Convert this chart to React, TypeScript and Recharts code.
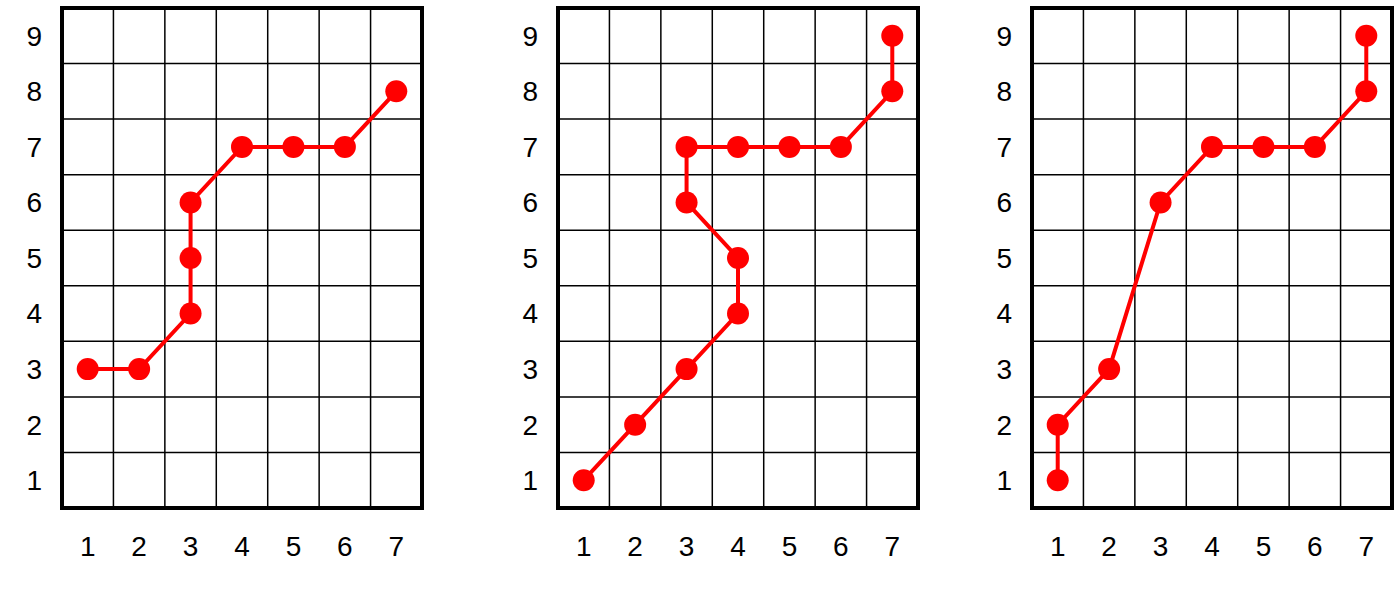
import { LineChart, Line, XAxis, YAxis, ReferenceLine, ReferenceArea } from "recharts";

const xTicks = [1, 2, 3, 4, 5, 6, 7];
const yTicks = [1, 2, 3, 4, 5, 6, 7, 8, 9];
const xGrid = [1.5, 2.5, 3.5, 4.5, 5.5, 6.5];
const yGrid = [1.5, 2.5, 3.5, 4.5, 5.5, 6.5, 7.5, 8.5];

const pathA = [
  { x: 1, y: 3 }, { x: 2, y: 3 }, { x: 3, y: 4 }, { x: 3, y: 5 }, { x: 3, y: 6 },
  { x: 4, y: 7 }, { x: 5, y: 7 }, { x: 6, y: 7 }, { x: 7, y: 8 },
];
const pathB = [
  { x: 1, y: 1 }, { x: 2, y: 2 }, { x: 3, y: 3 }, { x: 4, y: 4 }, { x: 4, y: 5 },
  { x: 3, y: 6 }, { x: 3, y: 7 }, { x: 4, y: 7 }, { x: 5, y: 7 }, { x: 6, y: 7 },
  { x: 7, y: 8 }, { x: 7, y: 9 },
];
const pathC = [
  { x: 1, y: 1 }, { x: 1, y: 2 }, { x: 2, y: 3 }, { x: 3, y: 6 }, { x: 4, y: 7 },
  { x: 5, y: 7 }, { x: 6, y: 7 }, { x: 7, y: 8 }, { x: 7, y: 9 },
];

const tickStyle = { fill: "#000", fontSize: 28, fontFamily: "Liberation Sans, Arial, sans-serif" };

function Panel({ data, left }: { data: { x: number; y: number }[]; left: number }) {
  return (
    <div style={{ position: "absolute", left, top: 0 }}>
      <LineChart width={420} height={592} data={data} margin={{ top: 8, right: 10, bottom: 0, left: 0 }}>
        <XAxis type="number" dataKey="x" domain={[0.5, 7.5]} ticks={xTicks} axisLine={false} tickLine={false}
          tickMargin={22} height={84} tick={tickStyle} interval={0} />
        <YAxis type="number" dataKey="y" domain={[0.5, 9.5]} ticks={yTicks} axisLine={false} tickLine={false}
          width={50} tickMargin={14} tick={tickStyle} interval={0} />
        {xGrid.map((v) => (
          <ReferenceLine key={"x" + v} x={v} stroke="#000" strokeWidth={1.5} />
        ))}
        {yGrid.map((v) => (
          <ReferenceLine key={"y" + v} y={v} stroke="#000" strokeWidth={1.5} />
        ))}
        <ReferenceArea x1={0.5} x2={7.5} y1={0.5} y2={9.5} fill="none" fillOpacity={0} stroke="#000" strokeWidth={4} />
        <Line type="linear" dataKey="y" stroke="#ff0000" strokeWidth={4}
          dot={{ r: 11, fill: "#ff0000", stroke: "#ff0000", strokeWidth: 0 }} isAnimationActive={false} />
      </LineChart>
    </div>
  );
}

export default function App() {
  return (
    <div style={{ position: "fixed", left: 0, top: 0, width: 1400, height: 592, background: "#fff" }}>
      <Panel data={pathA} left={12} />
      <Panel data={pathB} left={508} />
      <Panel data={pathC} left={982} />
    </div>
  );
}
